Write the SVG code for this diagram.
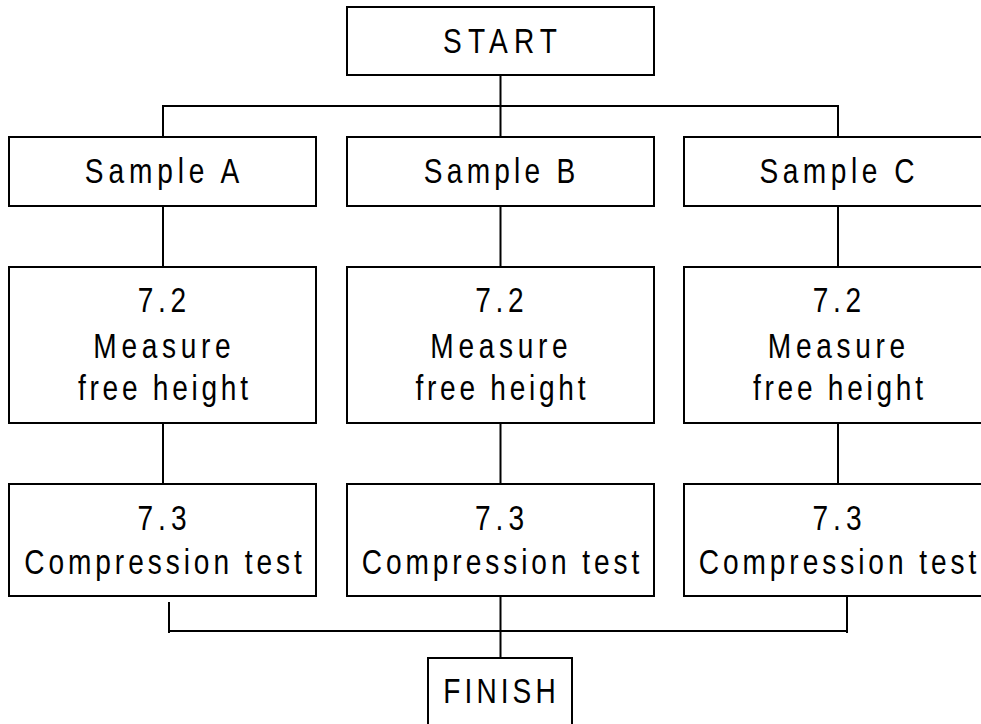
<svg xmlns="http://www.w3.org/2000/svg" width="981" height="724" viewBox="0 0 981 724">
<style>
.box{fill:#fff;stroke:#000;stroke-width:2}
.ln{fill:none;stroke:#000;stroke-width:2}
text{font-family:"Liberation Sans",Arial,sans-serif;font-size:36px;fill:#000;text-anchor:middle}
</style>
<rect width="981" height="724" fill="#fff"/>
<g id="connectors">
<path class="ln" d="M500.5 75V137M163 137V106H838V137"/>
<path class="ln" d="M163 206V267M500.5 206V267M838 206V267"/>
<path class="ln" d="M163 423V484M500.5 423V484M838 423V484"/>
<path class="ln" d="M169 602V633M168 631H847M847 596V633M500.5 596V658"/>
</g>
<g id="start">
<rect class="box" x="347" y="7" width="307" height="68"/>
<text transform="translate(500 53) scale(0.78 1)" textLength="146" lengthAdjust="spacing">START</text>
</g>
<g id="sampleA">
<rect class="box" x="9" y="137" width="307" height="69"/>
<text transform="translate(162 183) scale(0.78 1)" textLength="198" lengthAdjust="spacing">Sample A</text>
</g>
<g id="sampleB">
<rect class="box" x="347" y="137" width="307" height="69"/>
<text transform="translate(499.5 183) scale(0.78 1)" textLength="194" lengthAdjust="spacing">Sample B</text>
</g>
<g id="sampleC">
<rect class="box" x="684" y="137" width="307" height="69"/>
<text transform="translate(837 183) scale(0.78 1)" textLength="199" lengthAdjust="spacing">Sample C</text>
</g>
<g id="measureA">
<rect class="box" x="9" y="267" width="307" height="156"/>
<text transform="translate(162 312) scale(0.78 1)" textLength="62" lengthAdjust="spacing">7.2</text>
<text transform="translate(162 358) scale(0.78 1)" textLength="176" lengthAdjust="spacing">Measure</text>
<text transform="translate(163 400) scale(0.78 1)" textLength="218" lengthAdjust="spacing">free height</text>
</g>
<g id="measureB">
<rect class="box" x="347" y="267" width="307" height="156"/>
<text transform="translate(499.5 312) scale(0.78 1)" textLength="62" lengthAdjust="spacing">7.2</text>
<text transform="translate(499 358) scale(0.78 1)" textLength="176" lengthAdjust="spacing">Measure</text>
<text transform="translate(500.5 400) scale(0.78 1)" textLength="218" lengthAdjust="spacing">free height</text>
</g>
<g id="measureC">
<rect class="box" x="684" y="267" width="307" height="156"/>
<text transform="translate(837 312) scale(0.78 1)" textLength="62" lengthAdjust="spacing">7.2</text>
<text transform="translate(836.5 358) scale(0.78 1)" textLength="176" lengthAdjust="spacing">Measure</text>
<text transform="translate(838 400) scale(0.78 1)" textLength="218" lengthAdjust="spacing">free height</text>
</g>
<g id="compA">
<rect class="box" x="9" y="484" width="307" height="112"/>
<text transform="translate(162 530) scale(0.78 1)" textLength="63" lengthAdjust="spacing">7.3</text>
<text transform="translate(163 574) scale(0.78 1)" textLength="356" lengthAdjust="spacing">Compression test</text>
</g>
<g id="compB">
<rect class="box" x="347" y="484" width="307" height="112"/>
<text transform="translate(499.5 530) scale(0.78 1)" textLength="63" lengthAdjust="spacing">7.3</text>
<text transform="translate(500.5 574) scale(0.78 1)" textLength="356" lengthAdjust="spacing">Compression test</text>
</g>
<g id="compC">
<rect class="box" x="684" y="484" width="307" height="112"/>
<text transform="translate(837 530) scale(0.78 1)" textLength="63" lengthAdjust="spacing">7.3</text>
<text transform="translate(837.5 574) scale(0.78 1)" textLength="356" lengthAdjust="spacing">Compression test</text>
</g>
<g id="finish">
<rect class="box" x="428" y="658" width="144" height="80"/>
<text transform="translate(499.5 703) scale(0.78 1)" textLength="144" lengthAdjust="spacing">FINISH</text>
</g>
</svg>
